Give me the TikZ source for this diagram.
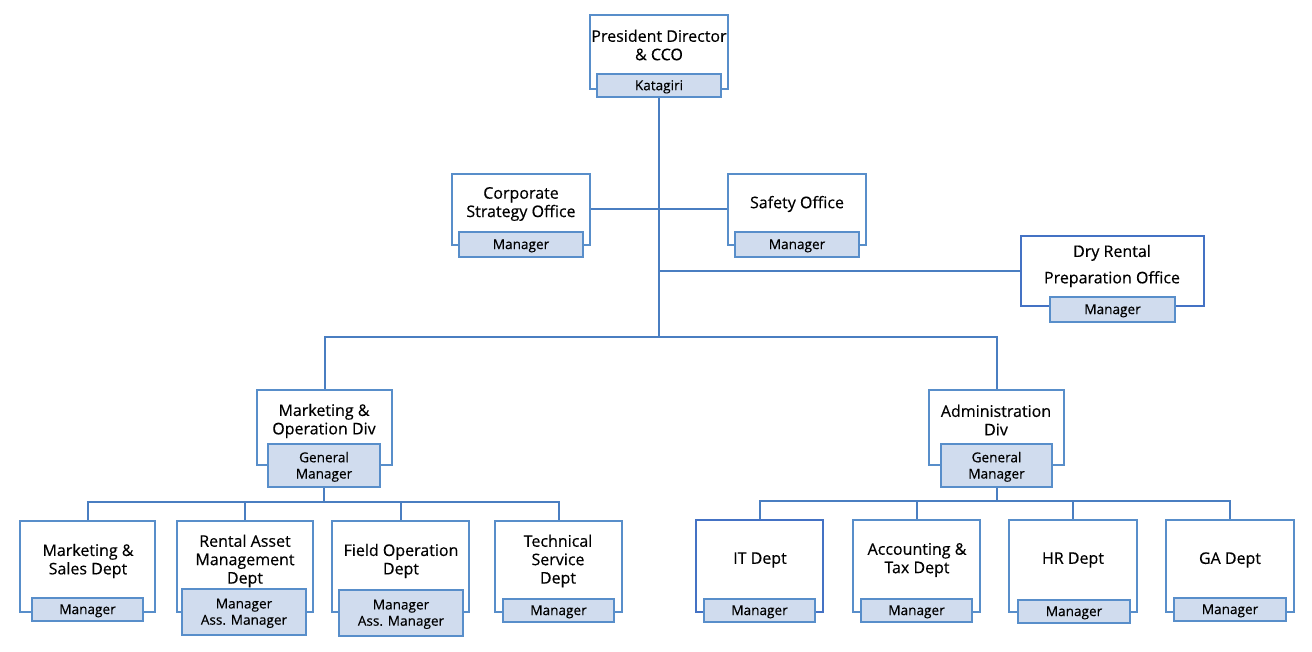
\documentclass[tikz,border=0pt]{standalone}
\usepackage{fontspec}
\setmainfont{Open Sans}[FakeBold=0.35]
\usetikzlibrary{backgrounds}
\definecolor{bord}{RGB}{88,142,202}
\definecolor{darkbord}{RGB}{68,114,196}
\definecolor{subfill}{RGB}{208,220,238}
\definecolor{conn}{RGB}{74,126,193}
\newcommand\orgbox[6]{\node[#6, minimum width={(#4-#2)*0.75pt}, minimum height={(#5-#3)*0.75pt}] (#1) at ({(#2+#4)/2},{(#3+#5)/2}) {};}
\tikzset{
  mainbox/.style={draw=bord, line width=1.8pt, fill=white, inner sep=0pt},
  mainboxdark/.style={draw=darkbord, line width=1.8pt, fill=white, inner sep=0pt},
  subbox/.style={draw=bord, line width=1.8pt, fill=subfill, inner sep=0pt},
  lbl/.style={align=center, inner sep=0pt, font=\fontsize{12}{13.8}\selectfont},
  sublbl/.style={align=center, inner sep=0pt, yshift=-1pt, font=\fontsize{10.2}{12.2}\selectfont},
  link/.style={draw=conn, line width=1.5pt},
}
\begin{document}
\begin{tikzpicture}[x=0.75pt,y=-0.75pt]
\useasboundingbox (0,0) rectangle (1312,652);
% coordinates for buses
\coordinate (trunk) at (658,337);
\coordinate (lbus) at (324,502);
\coordinate (rbus) at (996,501);
% boxes
\orgbox{pres}{590}{15}{728}{89}{mainbox}
\orgbox{cso}{452}{174}{590}{245}{mainbox}
\orgbox{saf}{728}{174}{866}{245}{mainbox}
\orgbox{dry}{1021}{236}{1204}{306}{mainboxdark}
\orgbox{mdiv}{257}{390}{392}{465}{mainbox}
\orgbox{adiv}{929}{390}{1064}{465}{mainbox}
\orgbox{msd}{20}{521}{155}{612}{mainbox}
\orgbox{ram}{177}{521}{313}{612}{mainbox}
\orgbox{fod}{332}{521}{469}{612}{mainbox}
\orgbox{tsd}{495}{521}{622}{612}{mainbox}
\orgbox{itd}{696}{520}{823}{612}{mainboxdark}
\orgbox{acc}{853}{520}{980}{612}{mainbox}
\orgbox{hrd}{1009}{520}{1137}{612}{mainbox}
\orgbox{gad}{1166}{520}{1294}{612}{mainbox}
% sub boxes
\orgbox{pres-s}{597}{74}{721}{97}{subbox}
\orgbox{cso-s}{459}{232}{583}{257}{subbox}
\orgbox{saf-s}{735}{232}{859}{257}{subbox}
\orgbox{dry-s}{1050}{297}{1175}{322}{subbox}
\orgbox{mdiv-s}{268}{444}{380}{487}{subbox}
\orgbox{adiv-s}{941}{444}{1052}{487}{subbox}
\orgbox{msd-s}{32}{598}{143}{621}{subbox}
\orgbox{ram-s}{182}{589}{306}{635}{subbox}
\orgbox{fod-s}{339}{590}{463}{636}{subbox}
\orgbox{tsd-s}{503}{599}{614}{622}{subbox}
\orgbox{itd-s}{704}{599}{815}{622}{subbox}
\orgbox{acc-s}{861}{599}{972}{622}{subbox}
\orgbox{hrd-s}{1018}{600}{1130}{623}{subbox}
\orgbox{gad-s}{1174}{598}{1286}{621}{subbox}
% connectors (behind boxes)
\begin{scope}[on background layer]
\draw[link] (pres-s.south) -- (pres-s.south |- trunk);
\draw[link] (cso.east) -- (saf.west);
\draw[link] (pres-s.south |- dry.west) -- (dry.west);
\draw[link] (mdiv.north) |- (trunk) -| (adiv.north);
\draw[link] (mdiv-s.south) -- (mdiv-s.south |- lbus);
\draw[link] (msd.north) |- (lbus) -| (tsd.north);
\draw[link] (ram.north) -- (ram.north |- lbus);
\draw[link] (fod.north) -- (fod.north |- lbus);
\draw[link] (adiv-s.south) -- (adiv-s.south |- rbus);
\draw[link] (itd.north) |- (rbus) -| (gad.north);
\draw[link] (acc.north) -- (acc.north |- rbus);
\draw[link] (hrd.north) -- (hrd.north |- rbus);
\end{scope}
% texts
\node[lbl] (pres-t) at (659,45) {President Director\\\& CCO};
\node[sublbl] (pres-st) at (pres-s) {Katagiri};
\node[lbl] (cso-t) at (521,204) {Corporate\\Strategy Office};
\node[sublbl] (cso-st) at (cso-s) {Manager};
\node[lbl] (saf-t) at (797,204) {Safety Office};
\node[sublbl] (saf-st) at (saf-s) {Manager};
\node[lbl] (dry-t) at (1112,266) {Dry Rental\\[6pt]Preparation Office};
\node[sublbl] (dry-st) at (dry-s) {Manager};
\node[lbl] (mdiv-t) at (324,421) {Marketing \&\\Operation Div};
\node[sublbl] (mdiv-st) at (mdiv-s) {General\\Manager};
\node[lbl] (adiv-t) at (996,420) {Administration\\Div};
\node[sublbl] (adiv-st) at (adiv-s) {General\\Manager};
\node[lbl] (msd-t) at (88,561) {Marketing \&\\Sales Dept};
\node[sublbl] (msd-st) at (msd-s) {Manager};
\node[lbl] (ram-t) at (245,561) {Rental Asset\\Management\\Dept};
\node[sublbl] (ram-st) at (ram-s) {Manager\\Ass. Manager};
\node[lbl] (fod-t) at (401,561) {Field Operation\\Dept};
\node[sublbl] (fod-st) at (fod-s) {Manager\\Ass. Manager};
\node[lbl] (tsd-t) at (558,561) {Technical\\Service\\Dept};
\node[sublbl] (tsd-st) at (tsd-s) {Manager};
\node[lbl] (itd-t) at (760,560) {IT Dept};
\node[sublbl] (itd-st) at (itd-s) {Manager};
\node[lbl] (acc-t) at (917,560) {Accounting \&\\Tax Dept};
\node[sublbl] (acc-st) at (acc-s) {Manager};
\node[lbl] (hrd-t) at (1073,560) {HR Dept};
\node[sublbl] (hrd-st) at (hrd-s) {Manager};
\node[lbl] (gad-t) at (1230,560) {GA Dept};
\node[sublbl] (gad-st) at (gad-s) {Manager};
\end{tikzpicture}
\end{document}
